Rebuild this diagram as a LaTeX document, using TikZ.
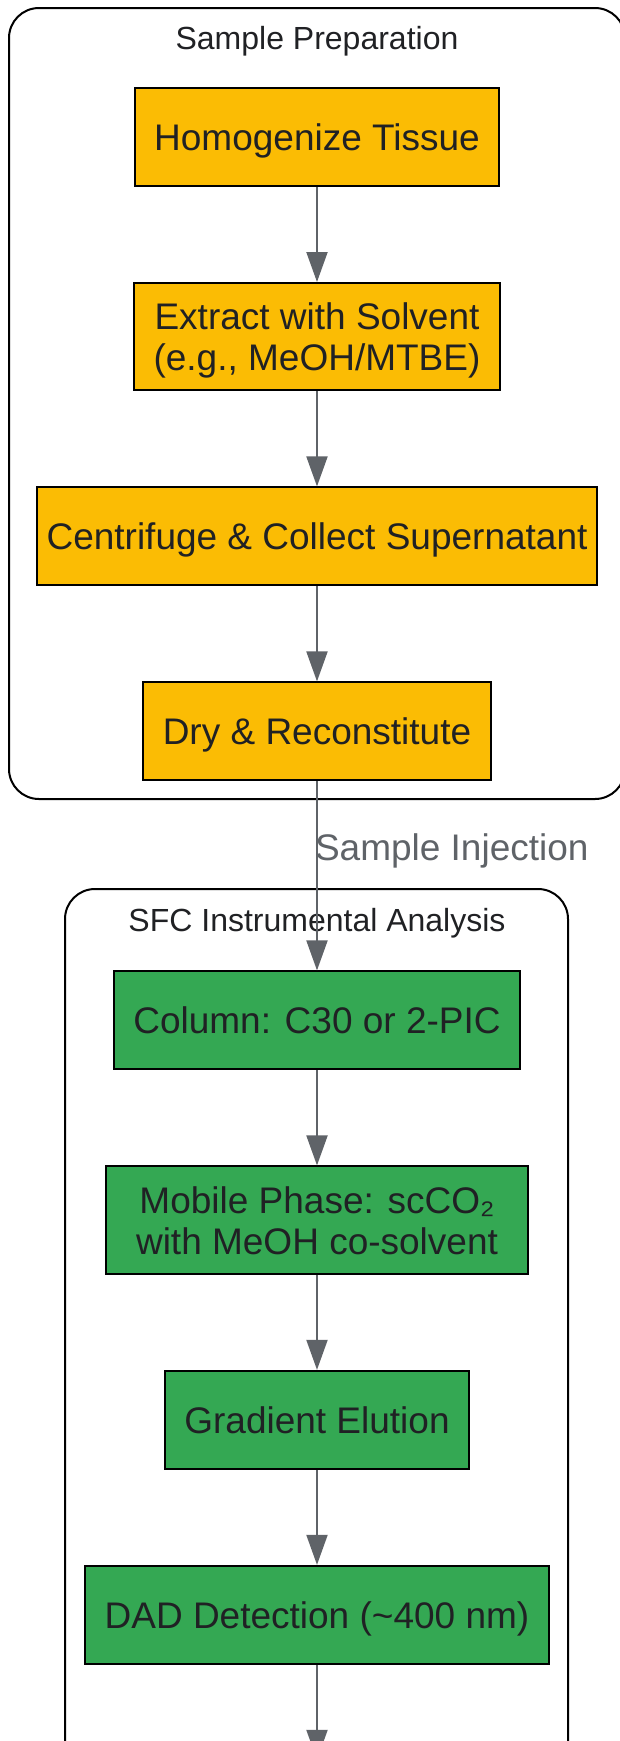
\documentclass[tikz,border=0pt]{standalone}
\usepackage{fontspec}
\setmainfont{Liberation Sans}
\usetikzlibrary{arrows.meta}
\usetikzlibrary{positioning}

\definecolor{prepfill}{HTML}{FBBC04}
\definecolor{sfcfill}{HTML}{34A853}
\definecolor{textdark}{HTML}{202124}
\definecolor{edgegray}{HTML}{5F6368}

\begin{document}
\begin{tikzpicture}[>={Triangle[length=15pt, width=10.5pt]}, node distance=47.5pt]
		 \tikzstyle{stage} = [rectangle, draw=black, line width=1pt, align=center, text=textdark, font=\fontsize{18.5}{20.5}\selectfont, text depth=0pt, inner xsep=9.75pt, inner ysep=9.9pt, minimum height=49pt];
		 \tikzstyle{prep} = [stage, fill=prepfill];
		 \tikzstyle{sfc} = [stage, fill=sfcfill];
		 \tikzstyle{cluster} = [draw=black, line width=1pt, rounded corners=15pt];
		 \tikzstyle{cluster title} = [font=\fontsize{16}{19}\selectfont, text=textdark];
		 \tikzstyle{flow} = [->, color=edgegray, line width=1pt];

		 \path [use as bounding box, clip] (0pt,0pt) rectangle (310pt,-870.5pt);

		 \draw [cluster] (4.5pt,-4pt) rectangle (312.5pt,-399.5pt);
		 \node [cluster title]  (prep title)  at (158.5pt,-20.7pt)   {Sample Preparation};
		 \draw [cluster] (32.5pt,-444.5pt) rectangle (284pt,-930pt);
		 \node [cluster title]  (sfc title)   at (158.5pt,-461.7pt)  {SFC Instrumental Analysis};

		 \node [prep]  (homog)    at (158.5pt,-68.5pt)      {Homogenize Tissue};
		 \node [prep]  (extract)  [below = of homog]        {Extract with Solvent\\(e.g., MeOH/MTBE)};
		 \node [prep, inner xsep=5pt]  (centri)   [below = of extract]      {Centrifuge \& Collect Supernatant};
		 \node [prep]  (dry)      [below = of centri]       {Dry \& Reconstitute};
		 \node [sfc]   (column)   [below = 94.5pt of dry]   {Column: C30 or 2-PIC};
		 \node [sfc, minimum width=211pt, minimum height=53.5pt]   (mobile)   [below = of column]       {Mobile Phase: scCO₂\\with MeOH co-solvent};
		 \node [sfc]   (gradient) [below = of mobile]       {Gradient Elution};
		 \node [sfc]   (dad)      [below = of gradient]     {DAD Detection (\textasciitilde400 nm)};
		 \coordinate [below = of dad] (next);

		\path [flow] (homog)    edge                 (extract)
		             (extract)  edge                 (centri)
		             (centri)   edge                 (dry)
		             (dry)      edge node [pos=0.37, anchor=west, inner sep=0pt, xshift=-1.5pt, text=edgegray, font=\fontsize{18.5}{20.5}\selectfont] {Sample Injection} (column)
		             (column)   edge                 (mobile)
		             (mobile)   edge                 (gradient)
		             (gradient) edge                 (dad)
		             (dad)      edge                 (next);
	\end{tikzpicture}
\end{document}
